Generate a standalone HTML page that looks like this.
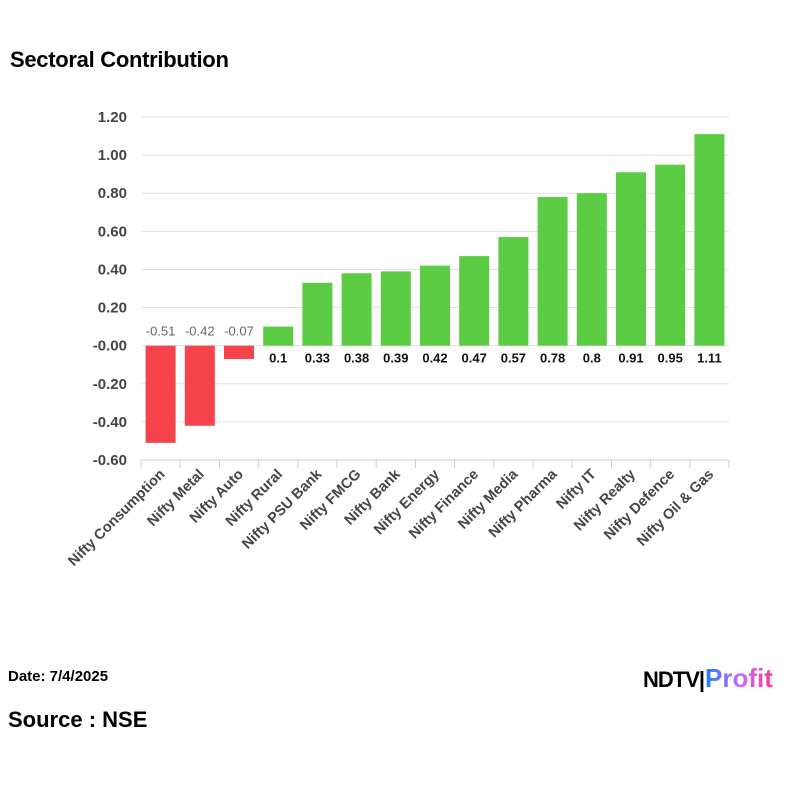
<!DOCTYPE html>
<html><head><meta charset="utf-8"><style>
body{margin:0;background:#fff;width:809px;height:809px;overflow:hidden;font-family:"Liberation Sans",sans-serif;}
#title{position:absolute;left:10px;top:47px;font-size:22px;font-weight:bold;color:#000;letter-spacing:-0.3px}
#date{position:absolute;left:8px;top:668px;font-size:15px;font-weight:bold;}
#src{position:absolute;left:8px;top:707px;font-size:22px;font-weight:bold;}
#logo{position:absolute;left:643px;top:663px;font-weight:bold;white-space:nowrap}
</style></head><body>
<div id="title">Sectoral Contribution</div>
<svg id="chart" width="809" height="809" style="position:absolute;left:0;top:0"></svg>
<div id="date">Date: 7/4/2025</div>
<div id="src">Source : NSE</div>
<div id="logo"><span style="font-size:22px;letter-spacing:-1px;color:#000">NDTV</span><span style="font-size:22px;color:#000">|</span><span style="font-size:26px;background:linear-gradient(90deg,#1e7bff,#c36bff,#ff3c8a);-webkit-background-clip:text;color:transparent">Profit</span></div>
<script>
const categories=["Nifty Consumption","Nifty Metal","Nifty Auto","Nifty Rural","Nifty PSU Bank","Nifty FMCG","Nifty Bank","Nifty Energy","Nifty Finance","Nifty Media","Nifty Pharma","Nifty IT","Nifty Realty","Nifty Defence","Nifty Oil & Gas"];
const values=[-0.51,-0.42,-0.07,0.1,0.33,0.38,0.39,0.42,0.47,0.57,0.78,0.8,0.91,0.95,1.11];
const valueLabels=["-0.51","-0.42","-0.07","0.1","0.33","0.38","0.39","0.42","0.47","0.57","0.78","0.8","0.91","0.95","1.11"];
const yTicks=[1.2,1.0,0.8,0.6,0.4,0.2,0,-0.2,-0.4,-0.6];
const yTickLabels=["1.20","1.00","0.80","0.60","0.40","0.20","-0.00","-0.20","-0.40","-0.60"];
const svg=document.getElementById('chart');const NS="http://www.w3.org/2000/svg";
const L=141,R=729,T=117,B=460,yMin=-0.6,yMax=1.2;
const y=v=>T+(yMax-v)/(yMax-yMin)*(B-T);
const step=(R-L)/categories.length;
const x=i=>L+step*(i+0.5);
function mk(tag,at,txt){const e=document.createElementNS(NS,tag);for(const k in at)e.setAttribute(k,at[k]);if(txt!=null)e.textContent=txt;svg.appendChild(e);return e;}
yTicks.forEach((t,i)=>{
 const g=mk('line',{x1:L,x2:R,y1:y(t),y2:y(t),stroke:'#e0e0e0','stroke-width':1});
 
 
 const lb=mk('text',{x:127,y:y(t)+5,'text-anchor':'end','font-size':15,'font-weight':'bold',fill:'#444'},yTickLabels[i]);
 
 
});
const ax=mk('line',{x1:L,x2:R,y1:B,y2:B,stroke:'#ccc'});


for(let i=0;i<=categories.length;i++){const tk=mk('line',{x1:L+step*i,x2:L+step*i,y1:B,y2:B+8,stroke:'#ccc'});
 
 }
const bw=30;
categories.forEach((c,i)=>{
 const v=values[i];const y0=y(0),y1=y(v);
 const r=mk('rect',{x:x(i)-bw/2,y:Math.min(y0,y1),width:bw,height:Math.abs(y1-y0),fill:v<0?'#f5424b':'#5ccc45'});
 
 
 const neg=v<0;
 const vl=mk('text',{x:x(i),y:neg?y0-10:y0+17,'text-anchor':'middle','font-size':13,'font-weight':neg?'normal':'bold',fill:neg?'#666':'#111'},valueLabels[i]);
 
 
 const xl=mk('text',{x:x(i)+5,y:B+15,'text-anchor':'end','font-size':14.5,'font-weight':'bold',fill:'#444',transform:`rotate(-45 ${x(i)+5} ${B+15})`},c);
 
 
});
</script>
</body></html>
